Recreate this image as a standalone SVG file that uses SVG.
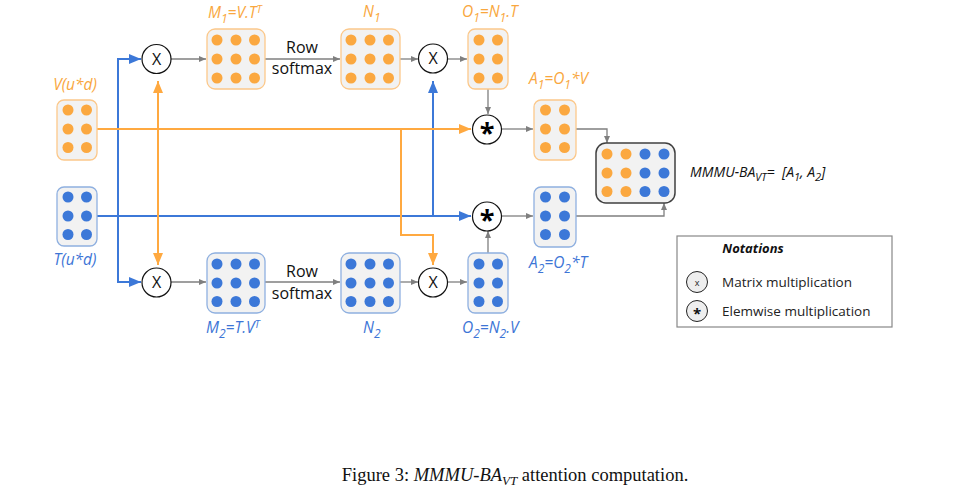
<svg xmlns="http://www.w3.org/2000/svg" width="966" height="501" viewBox="0 0 966 501">
<style>
.bo{fill:#F2F2F2;stroke:#FCC88A;stroke-width:1.3}
.bb{fill:#F2F2F2;stroke:#8FB0E0;stroke-width:1.3}
.do{fill:#FBA840}
.db{fill:#3C78D8}
.op{fill:#fff;stroke:#111;stroke-width:1.2}
.lo{font-family:"Open Sans",sans-serif;font-style:italic;font-size:15.5px;fill:#F9A73E}
.lb{font-family:"Open Sans",sans-serif;font-style:italic;font-size:15.5px;fill:#3D75D6}
.sub{font-size:12px}
.sup{font-size:10.5px}
.t{font-family:"Open Sans",sans-serif;font-size:16px;fill:#111}
.cg{fill:none;stroke:#7f7f7f;stroke-width:1.3}
.cb{fill:none;stroke:#3C78D8;stroke-width:2}
.co{fill:none;stroke:#FFA940;stroke-width:2}
</style>
<defs>
<marker id="ag" markerWidth="7" markerHeight="6" refX="7" refY="3" orient="auto" markerUnits="userSpaceOnUse"><path d="M0,0 L7,3 L0,6 z" fill="#7f7f7f"/></marker>
<marker id="ab" markerWidth="12" markerHeight="10" refX="12" refY="5" orient="auto" markerUnits="userSpaceOnUse"><path d="M0,0 L12,5 L0,10 z" fill="#3C78D8"/></marker>
<marker id="ao" markerWidth="12" markerHeight="10" refX="12" refY="5" orient="auto" markerUnits="userSpaceOnUse"><path d="M0,0 L12,5 L0,10 z" fill="#FFA940"/></marker>
</defs>

<g id="connectors">
<path class="cb" d="M97,216 L471,216" marker-end="url(#ab)"/>
<path class="cb" d="M118,216 L118,59 L141,59" marker-end="url(#ab)"/>
<path class="cb" d="M118,216 L118,282 L141,282" marker-end="url(#ab)"/>
<path class="cb" d="M433,216 L433,81" marker-end="url(#ab)"/>
<path class="co" d="M97,129 L471,129" marker-end="url(#ao)"/>
<path class="co" d="M158,129 L158,81" marker-end="url(#ao)"/>
<path class="co" d="M158,129 L158,265" marker-end="url(#ao)"/>
<path class="co" d="M401,129 L401,235 L433,235 L433,265" marker-end="url(#ao)"/>
<path class="cg" d="M171,59 L206,59" marker-end="url(#ag)"/>
<path class="cg" d="M265,59 L340,59" marker-end="url(#ag)"/>
<path class="cg" d="M400,59 L418,59" marker-end="url(#ag)"/>
<path class="cg" d="M448,59 L467,59" marker-end="url(#ag)"/>
<path class="cg" d="M171,282 L206,282" marker-end="url(#ag)"/>
<path class="cg" d="M265,282 L340,282" marker-end="url(#ag)"/>
<path class="cg" d="M400,282 L418,282" marker-end="url(#ag)"/>
<path class="cg" d="M448,282 L467,282" marker-end="url(#ag)"/>
<path class="cg" d="M488,89 L488,114" marker-end="url(#ag)"/>
<path class="cg" d="M488,253 L488,231" marker-end="url(#ag)"/>
<path class="cg" d="M502,129 L533,129" marker-end="url(#ag)"/>
<path class="cg" d="M502,216 L533,216" marker-end="url(#ag)"/>
<path class="cg" d="M576,129 L607,129 L607,143" marker-end="url(#ag)"/>
<path class="cg" d="M576,216 L664,216 L664,203" marker-end="url(#ag)"/>
<text class="t" x="302" y="53" text-anchor="middle">Row</text>
<text class="t" x="302" y="74" text-anchor="middle">softmax</text>
<text class="t" x="302" y="277" text-anchor="middle">Row</text>
<text class="t" x="302" y="299" text-anchor="middle">softmax</text>
</g>

<g id="V">
<rect class="bo" x="57" y="100" width="40" height="60" rx="7"/>
<circle class="do" cx="68" cy="110" r="5.5"/><circle class="do" cx="86.5" cy="110" r="5.5"/>
<circle class="do" cx="68" cy="129" r="5.5"/><circle class="do" cx="86.5" cy="129" r="5.5"/>
<circle class="do" cx="68" cy="147.5" r="5.5"/><circle class="do" cx="86.5" cy="147.5" r="5.5"/>
<text class="lo" x="75" y="90" text-anchor="middle">V(u*d)</text>
</g>

<g id="T">
<rect class="bb" x="57" y="187" width="40" height="59" rx="7"/>
<circle class="db" cx="68" cy="197" r="5.5"/><circle class="db" cx="86.5" cy="197" r="5.5"/>
<circle class="db" cx="68" cy="216" r="5.5"/><circle class="db" cx="86.5" cy="216" r="5.5"/>
<circle class="db" cx="68" cy="234.5" r="5.5"/><circle class="db" cx="86.5" cy="234.5" r="5.5"/>
<text class="lb" x="75" y="265" text-anchor="middle">T(u*d)</text>
</g>

<g id="X1"><circle class="op" cx="156.5" cy="59" r="14.5"/><text class="t" x="156.5" y="64.5" text-anchor="middle">X</text></g>
<g id="X2"><circle class="op" cx="156.5" cy="282.5" r="14.5"/><text class="t" x="156.5" y="288" text-anchor="middle">X</text></g>
<g id="X3"><circle class="op" cx="433" cy="58.5" r="14.5"/><text class="t" x="433" y="64" text-anchor="middle">X</text></g>
<g id="X4"><circle class="op" cx="433" cy="282.5" r="14.5"/><text class="t" x="433" y="288" text-anchor="middle">X</text></g>
<g id="S1"><circle class="op" cx="487" cy="129.5" r="14.5"/><text x="487" y="142" text-anchor="middle" font-family="Open Sans,sans-serif" font-weight="bold" font-size="27" fill="#000">*</text></g>
<g id="S2"><circle class="op" cx="487" cy="216.5" r="14.5"/><text x="487" y="229" text-anchor="middle" font-family="Open Sans,sans-serif" font-weight="bold" font-size="27" fill="#000">*</text></g>

<g id="M1">
<rect class="bo" x="207" y="29" width="58" height="60" rx="8"/>
<circle class="do" cx="217" cy="40" r="5.5"/><circle class="do" cx="236" cy="40" r="5.5"/><circle class="do" cx="254.5" cy="40" r="5.5"/>
<circle class="do" cx="217" cy="59" r="5.5"/><circle class="do" cx="236" cy="59" r="5.5"/><circle class="do" cx="254.5" cy="59" r="5.5"/>
<circle class="do" cx="217" cy="78" r="5.5"/><circle class="do" cx="236" cy="78" r="5.5"/><circle class="do" cx="254.5" cy="78" r="5.5"/>
<text class="lo" x="208" y="18">M<tspan class="sub" dy="5">1</tspan><tspan dy="-5">=V.T</tspan><tspan class="sup" dy="-5">T</tspan></text>
</g>

<g id="N1">
<rect class="bo" x="341" y="29" width="59" height="60" rx="8"/>
<circle class="do" cx="351" cy="40" r="5.5"/><circle class="do" cx="370" cy="40" r="5.5"/><circle class="do" cx="388.5" cy="40" r="5.5"/>
<circle class="do" cx="351" cy="59" r="5.5"/><circle class="do" cx="370" cy="59" r="5.5"/><circle class="do" cx="388.5" cy="59" r="5.5"/>
<circle class="do" cx="351" cy="78" r="5.5"/><circle class="do" cx="370" cy="78" r="5.5"/><circle class="do" cx="388.5" cy="78" r="5.5"/>
<text class="lo" x="363" y="17">N<tspan class="sub" dy="5">1</tspan></text>
</g>

<g id="O1">
<rect class="bo" x="468" y="29" width="40" height="60" rx="7"/>
<circle class="do" cx="479" cy="40" r="5.5"/><circle class="do" cx="497.5" cy="40" r="5.5"/>
<circle class="do" cx="479" cy="59" r="5.5"/><circle class="do" cx="497.5" cy="59" r="5.5"/>
<circle class="do" cx="479" cy="78" r="5.5"/><circle class="do" cx="497.5" cy="78" r="5.5"/>
<text class="lo" x="462" y="17">O<tspan class="sub" dy="5">1</tspan><tspan dy="-5">=N</tspan><tspan class="sub" dy="5">1</tspan><tspan dy="-5">.T</tspan></text>
</g>

<g id="A1">
<rect class="bo" x="534" y="100" width="42" height="60" rx="7"/>
<circle class="do" cx="545.5" cy="110" r="5.5"/><circle class="do" cx="564.5" cy="110" r="5.5"/>
<circle class="do" cx="545.5" cy="129" r="5.5"/><circle class="do" cx="564.5" cy="129" r="5.5"/>
<circle class="do" cx="545.5" cy="147.5" r="5.5"/><circle class="do" cx="564.5" cy="147.5" r="5.5"/>
<text class="lo" x="529" y="84">A<tspan class="sub" dy="5">1</tspan><tspan dy="-5">=O</tspan><tspan class="sub" dy="5">1</tspan><tspan dy="-5">*V</tspan></text>
</g>

<g id="M2">
<rect class="bb" x="207" y="253" width="58" height="60" rx="8"/>
<circle class="db" cx="217" cy="264" r="5.5"/><circle class="db" cx="236" cy="264" r="5.5"/><circle class="db" cx="254.5" cy="264" r="5.5"/>
<circle class="db" cx="217" cy="283" r="5.5"/><circle class="db" cx="236" cy="283" r="5.5"/><circle class="db" cx="254.5" cy="283" r="5.5"/>
<circle class="db" cx="217" cy="301.5" r="5.5"/><circle class="db" cx="236" cy="301.5" r="5.5"/><circle class="db" cx="254.5" cy="301.5" r="5.5"/>
<text class="lb" x="206" y="333">M<tspan class="sub" dy="5">2</tspan><tspan dy="-5">=T.V</tspan><tspan class="sup" dy="-5">T</tspan></text>
</g>

<g id="N2">
<rect class="bb" x="341" y="253" width="59" height="60" rx="8"/>
<circle class="db" cx="351" cy="264" r="5.5"/><circle class="db" cx="370" cy="264" r="5.5"/><circle class="db" cx="388.5" cy="264" r="5.5"/>
<circle class="db" cx="351" cy="283" r="5.5"/><circle class="db" cx="370" cy="283" r="5.5"/><circle class="db" cx="388.5" cy="283" r="5.5"/>
<circle class="db" cx="351" cy="301.5" r="5.5"/><circle class="db" cx="370" cy="301.5" r="5.5"/><circle class="db" cx="388.5" cy="301.5" r="5.5"/>
<text class="lb" x="363" y="333">N<tspan class="sub" dy="5">2</tspan></text>
</g>

<g id="O2">
<rect class="bb" x="468" y="253" width="40" height="60" rx="7"/>
<circle class="db" cx="479" cy="264" r="5.5"/><circle class="db" cx="497.5" cy="264" r="5.5"/>
<circle class="db" cx="479" cy="283" r="5.5"/><circle class="db" cx="497.5" cy="283" r="5.5"/>
<circle class="db" cx="479" cy="301.5" r="5.5"/><circle class="db" cx="497.5" cy="301.5" r="5.5"/>
<text class="lb" x="462" y="333">O<tspan class="sub" dy="5">2</tspan><tspan dy="-5">=N</tspan><tspan class="sub" dy="5">2</tspan><tspan dy="-5">.V</tspan></text>
</g>

<g id="A2">
<rect class="bb" x="534" y="187" width="42" height="60" rx="7"/>
<circle class="db" cx="545.5" cy="197" r="5.5"/><circle class="db" cx="564.5" cy="197" r="5.5"/>
<circle class="db" cx="545.5" cy="216" r="5.5"/><circle class="db" cx="564.5" cy="216" r="5.5"/>
<circle class="db" cx="545.5" cy="234.5" r="5.5"/><circle class="db" cx="564.5" cy="234.5" r="5.5"/>
<text class="lb" x="529" y="268">A<tspan class="sub" dy="5">2</tspan><tspan dy="-5">=O</tspan><tspan class="sub" dy="5">2</tspan><tspan dy="-5">*T</tspan></text>
</g>

<g id="MMMU">
<rect x="596" y="143" width="79" height="60" rx="10" fill="#F2F2F2" stroke="#404040" stroke-width="1.5"/>
<circle class="do" cx="607" cy="154" r="5.5"/><circle class="do" cx="626" cy="154" r="5.5"/><circle class="db" cx="645" cy="154" r="5.5"/><circle class="db" cx="664" cy="154" r="5.5"/>
<circle class="do" cx="607" cy="173" r="5.5"/><circle class="do" cx="626" cy="173" r="5.5"/><circle class="db" cx="645" cy="173" r="5.5"/><circle class="db" cx="664" cy="173" r="5.5"/>
<circle class="do" cx="607" cy="191.5" r="5.5"/><circle class="do" cx="626" cy="191.5" r="5.5"/><circle class="db" cx="645" cy="191.5" r="5.5"/><circle class="db" cx="664" cy="191.5" r="5.5"/>
<text x="690" y="177" font-family="Open Sans,sans-serif" font-style="italic" font-size="14" fill="#111" xml:space="preserve">MMMU-BA<tspan font-size="11" dy="4">VT</tspan><tspan dy="-4">=  [A</tspan><tspan font-size="11" dy="4">1</tspan><tspan dy="-4">, A</tspan><tspan font-size="11" dy="4">2</tspan><tspan dy="-4">]</tspan></text>
</g>

<g id="Notations">
<rect x="677" y="236" width="215" height="91" fill="#fff" stroke="#888" stroke-width="1.2"/>
<text x="753" y="253" text-anchor="middle" font-family="Open Sans,sans-serif" font-style="italic" font-weight="bold" font-size="13" fill="#111">Notations</text>
<circle cx="697" cy="282" r="10.5" fill="#EEEEEE" stroke="#222" stroke-width="1"/>
<text x="697" y="285.5" text-anchor="middle" font-family="Open Sans,sans-serif" font-size="9" fill="#222">x</text>
<text x="722" y="287" font-family="Open Sans,sans-serif" font-size="13.5" fill="#222">Matrix multiplication</text>
<circle cx="697" cy="311" r="10.5" fill="#EEEEEE" stroke="#222" stroke-width="1"/>
<text x="697" y="318.5" text-anchor="middle" font-family="Open Sans,sans-serif" font-weight="bold" font-size="15" fill="#111">*</text>
<text x="722" y="316" font-family="Open Sans,sans-serif" font-size="13.5" fill="#222">Elemwise multiplication</text>
</g>

<text x="515" y="481" text-anchor="middle" font-family="Liberation Serif,serif" font-size="18.5" fill="#111">Figure 3: <tspan font-style="italic">MMMU-BA</tspan><tspan font-style="italic" font-size="13" dy="4">VT</tspan><tspan dy="-4"> attention computation.</tspan></text>
</svg>
